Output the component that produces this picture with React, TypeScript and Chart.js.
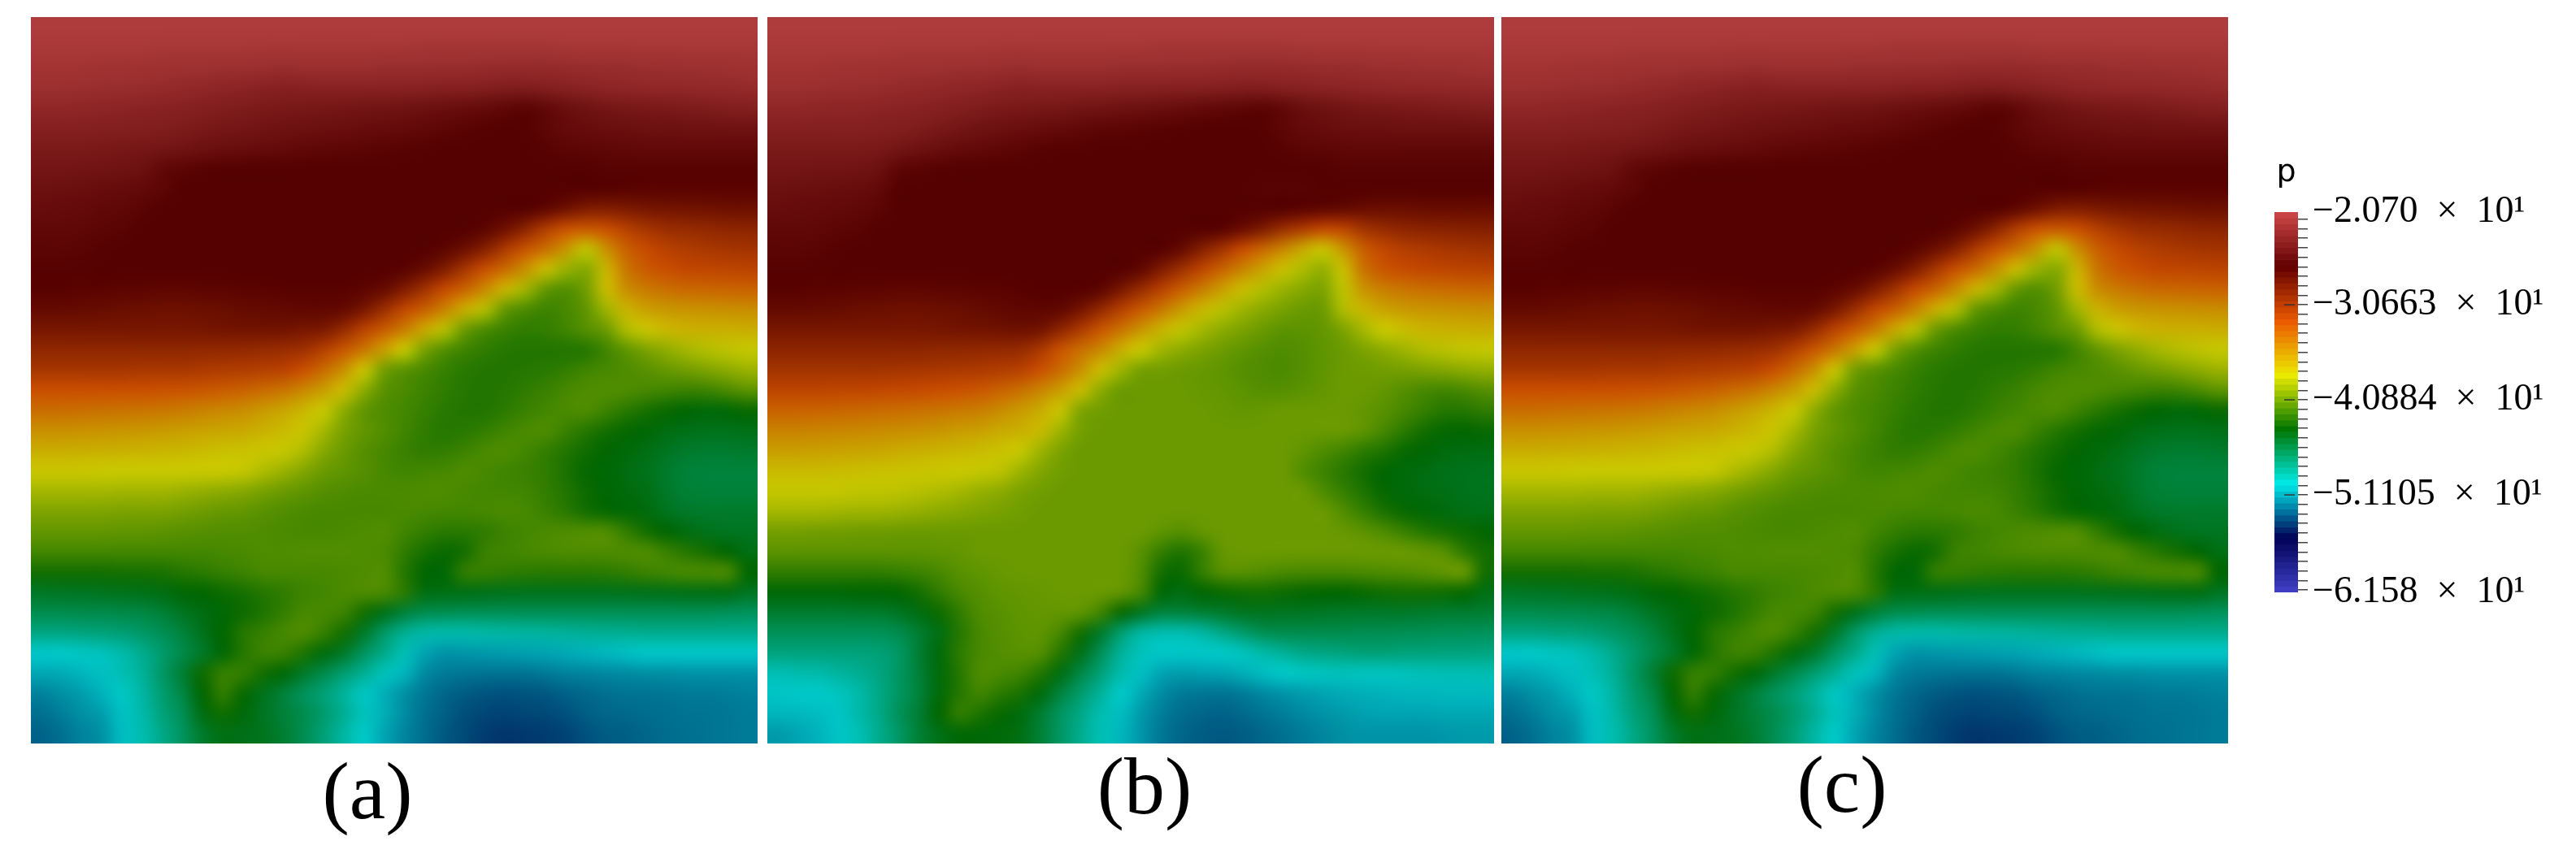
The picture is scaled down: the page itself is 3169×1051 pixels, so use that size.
import React, { useEffect, useRef } from "react";
import { Chart, registerables } from "chart.js";

Chart.register(...registerables);

const panelA: number[][] = [
[-20.8,-20.8,-20.8,-20.8,-20.8,-20.8,-20.8,-20.8,-20.8,-20.8,-20.8,-20.8,-20.8,-20.8,-20.8,-20.8,-20.8,-20.8,-20.8,-20.8,-20.8,-20.8,-20.8,-20.8,-20.8,-20.8,-20.8,-20.8,-20.8,-20.8,-20.8,-20.8,-20.8,-20.8,-20.8,-20.8],
[-21.2,-21.2,-21.2,-21.2,-21.2,-21.2,-21.3,-21.3,-21.3,-21.3,-21.3,-21.4,-21.4,-21.4,-21.4,-21.4,-21.4,-21.4,-21.4,-21.5,-21.5,-21.5,-21.5,-21.5,-21.5,-21.5,-21.4,-21.4,-21.4,-21.4,-21.3,-21.3,-21.3,-21.3,-21.3,-21.3],
[-21.6,-21.6,-21.6,-21.7,-21.7,-21.8,-21.8,-21.9,-21.9,-22,-22,-22.1,-22.2,-22.1,-22.1,-22.1,-22.1,-22.2,-22.2,-22.2,-22.3,-22.3,-22.4,-22.5,-22.5,-22.5,-22.4,-22.3,-22.3,-22.2,-22.1,-22.1,-22,-22,-21.9,-21.8],
[-22,-22,-22.1,-22.2,-22.2,-22.3,-22.5,-22.6,-22.8,-23,-23.1,-23.3,-23.5,-23.4,-23.3,-23.3,-23.3,-23.3,-23.3,-23.4,-23.5,-23.5,-23.6,-23.8,-23.8,-23.6,-23.4,-23.2,-23,-22.9,-22.8,-22.7,-22.7,-22.6,-22.6,-22.5],
[-22.8,-22.8,-22.9,-23,-23.1,-23.2,-23.3,-23.4,-23.6,-23.8,-23.9,-24.1,-24.2,-24.3,-24.4,-24.5,-24.6,-24.7,-24.8,-25,-25.2,-25.4,-25.6,-25.9,-26.2,-25.8,-25.2,-24.8,-24.5,-24.3,-24.2,-24.1,-24,-23.9,-23.7,-23.6],
[-23.5,-23.5,-23.5,-23.6,-23.6,-23.7,-23.8,-24,-24.2,-24.4,-24.5,-24.7,-24.9,-25,-25.1,-25.2,-25.4,-25.5,-25.6,-25.8,-26,-26.2,-26.4,-26.5,-26.4,-26,-25.6,-25.4,-25.2,-25.1,-25,-25,-24.9,-24.9,-24.8,-24.8],
[-24.1,-24.1,-24.1,-24.2,-24.3,-24.4,-24.5,-24.7,-25,-25.2,-25.3,-25.5,-25.6,-25.8,-25.9,-26,-26.1,-26.2,-26.3,-26.4,-26.5,-26.5,-26.5,-26.5,-26.5,-26.3,-26.1,-26,-25.9,-25.8,-25.7,-25.7,-25.7,-25.7,-25.7,-25.7],
[-24.5,-24.5,-24.6,-24.7,-24.8,-25,-25.8,-26.1,-26.3,-26.5,-26.5,-26.5,-26.5,-26.5,-26.5,-26.5,-26.5,-26.5,-26.5,-26.5,-26.5,-26.5,-26.5,-26.5,-26.5,-26.5,-26.5,-26.5,-26.3,-26.3,-26.3,-26.3,-26.3,-26.3,-26.3,-26.3],
[-25,-25.1,-25.2,-25.4,-25.5,-25.7,-26,-26.5,-26.5,-26.5,-26.5,-26.5,-26.5,-26.5,-26.5,-26.5,-26.5,-26.5,-26.5,-26.5,-26.5,-26.5,-26.5,-26.5,-26.5,-26.5,-26.5,-26.5,-26.6,-26.7,-26.8,-26.8,-26.8,-26.8,-26.8,-26.8],
[-25.4,-25.5,-25.6,-25.8,-25.9,-26.2,-26.5,-26.5,-26.5,-26.5,-26.5,-26.5,-26.5,-26.5,-26.5,-26.5,-26.5,-26.5,-26.5,-26.5,-26.5,-26.5,-26.5,-26.5,-26.6,-27,-27.8,-28.6,-28.8,-28.5,-28.2,-28.1,-28,-27.9,-27.8,-27.8],
[-25.8,-25.8,-25.9,-26.1,-26.2,-26.5,-26.5,-26.5,-26.5,-26.5,-26.5,-26.5,-26.5,-26.5,-26.5,-26.5,-26.5,-26.5,-26.5,-26.5,-26.5,-26.5,-26.9,-27.8,-29.3,-31.2,-32.6,-33,-32.5,-31.4,-30.6,-30,-29.8,-29.6,-29.4,-29.3],
[-26.1,-26.1,-26.2,-26.4,-26.5,-26.5,-26.5,-26.5,-26.5,-26.5,-26.5,-26.5,-26.5,-26.5,-26.5,-26.5,-26.5,-26.5,-26.5,-26.5,-26.9,-27.7,-29,-31,-32.7,-34,-35.8,-38.5,-35.5,-33.3,-32.2,-31.5,-31.1,-30.8,-30.6,-30.5],
[-26.4,-26.4,-26.4,-26.5,-26.5,-26.5,-26.5,-26.5,-26.5,-26.5,-26.5,-26.5,-26.5,-26.5,-26.5,-26.5,-26.5,-26.5,-26.8,-27.5,-28.8,-30.7,-32.5,-33.8,-35.6,-37.6,-39.6,-40.2,-37.3,-34.3,-33,-32.4,-32,-31.9,-31.8,-31.7],
[-26.7,-26.7,-26.8,-26.8,-26.9,-26.9,-27,-27,-26.9,-26.9,-26.8,-26.8,-26.7,-26.7,-26.7,-26.7,-26.9,-27.4,-28.7,-30.4,-32.2,-33.5,-35.3,-37.3,-39.4,-41.2,-41.7,-40.8,-37.6,-35.4,-34.5,-34,-33.7,-33.6,-33.5,-33.4],
[-27.3,-27.3,-27.4,-27.5,-27.6,-27.7,-27.8,-27.8,-27.7,-27.6,-27.4,-27.3,-27.2,-27.1,-27.1,-27.3,-28.3,-30.1,-32,-33.3,-35,-37,-38.9,-41.2,-41.9,-42.3,-42,-41.3,-39.5,-37.2,-36.3,-35.9,-35.7,-35.6,-35.5,-35.4],
[-28.3,-28.3,-28.3,-28.3,-28.3,-28.3,-28.3,-28.3,-28.2,-28.1,-28,-28,-28,-28.3,-28.5,-29.8,-31.7,-33.1,-34.7,-36.7,-38.8,-41,-41.9,-42.4,-42.7,-42.6,-42.2,-41.6,-41,-39,-38,-37.4,-37.1,-37,-37,-36.9],
[-29.5,-29.5,-29.5,-29.5,-29.5,-29.5,-29.5,-29.5,-29.6,-29.6,-29.7,-29.8,-30,-30.3,-31.4,-32.9,-34.4,-36.3,-38.4,-40.6,-41.7,-42.3,-42.7,-43,-43.1,-43.1,-43.1,-43,-42.2,-41.3,-40.5,-39.9,-39.3,-38.9,-38.6,-38.4],
[-30.7,-30.7,-30.7,-30.7,-30.7,-30.8,-30.8,-30.8,-31,-31.1,-31.2,-31.4,-31.6,-32.5,-33.8,-35.6,-38,-40.8,-41.5,-42,-42.5,-42.9,-43.1,-43.1,-43,-42.9,-42.6,-42.2,-42,-41.8,-41.5,-41.1,-40.8,-40.4,-40,-39.6],
[-32.5,-32.5,-32.5,-32.5,-32.5,-32.5,-32.6,-32.7,-32.9,-33.1,-33.4,-33.8,-34.3,-35.2,-36.2,-37.6,-40,-41.5,-41.9,-42.3,-42.7,-43,-43.1,-43,-42.7,-42.4,-42,-41.8,-41.7,-41.8,-42,-42.2,-42.4,-42.3,-41.9,-41.4],
[-33.9,-33.9,-34,-34.1,-34.2,-34.3,-34.4,-34.6,-34.9,-35.2,-35.4,-36,-36.6,-37.4,-38.3,-40,-41.3,-41.8,-42.1,-42.5,-42.9,-43.1,-43.1,-42.8,-42.4,-42.1,-41.9,-41.8,-42.3,-42.9,-43.4,-43.8,-44.1,-44.3,-44.2,-43.8],
[-35.5,-35.5,-35.6,-35.7,-35.8,-35.9,-36,-36.2,-36.4,-36.6,-36.7,-37.1,-37.5,-38,-39.3,-40.6,-41.2,-41.7,-42.2,-42.7,-43,-42.9,-42.6,-42.2,-41.9,-41.8,-42.4,-43,-43.5,-43.9,-44.2,-44.5,-44.7,-44.8,-44.8,-44.7],
[-36.9,-36.9,-37,-37,-37.1,-37.2,-37.3,-37.4,-37.6,-37.8,-37.9,-38.1,-38.4,-39,-40.2,-41,-41.6,-42,-42.4,-42.7,-42.6,-42.3,-41.9,-41.8,-42.1,-42.6,-43.1,-43.6,-44,-44.3,-44.6,-45,-45.3,-45.4,-45.4,-45.3],
[-38.1,-38.1,-38.1,-38.2,-38.2,-38.2,-38.2,-38.2,-38.2,-38.2,-38.4,-39,-39.6,-40.3,-41,-41.3,-41.6,-42,-42.2,-42.1,-42,-41.8,-42,-42.2,-42.4,-42.7,-43.3,-43.9,-44.2,-44.5,-44.8,-45.3,-45.7,-45.8,-45.8,-45.8],
[-39.3,-39.3,-39.3,-39.3,-39.4,-39.4,-39.4,-39.6,-39.8,-40,-40.2,-40.6,-41,-41.3,-41.6,-41.8,-41.9,-41.9,-41.9,-41.8,-41.8,-42,-42.1,-42.1,-42.2,-42.6,-43.1,-43.7,-44.1,-44.4,-44.6,-45.2,-45.6,-45.7,-45.7,-45.7],
[-40.4,-40.4,-40.4,-40.4,-40.5,-40.5,-40.5,-40.7,-40.9,-41.1,-41.2,-41.5,-41.7,-41.9,-42,-42,-42,-42,-41.9,-42,-42.1,-42.1,-42,-41.9,-42,-42.4,-42.9,-43.5,-43.9,-44.2,-44.4,-44.9,-45.2,-45.3,-45.3,-45.3],
[-41.2,-41.2,-41.2,-41.2,-41.3,-41.3,-41.4,-41.5,-41.6,-41.7,-41.7,-41.8,-41.9,-42,-42,-41.9,-41.8,-41.7,-42.2,-42.6,-42.9,-42.9,-42.7,-42.3,-42.1,-41.9,-41.8,-41.7,-41.7,-42.6,-43.5,-44.1,-44.5,-44.8,-45,-45],
[-42.1,-42.1,-42.1,-42.1,-42.1,-42.1,-42.1,-42.1,-42.1,-42,-41.9,-41.8,-41.8,-41.7,-41.7,-41.7,-41.8,-41.9,-42.7,-43.4,-43.8,-43.5,-42.4,-42.2,-42,-41.9,-41.8,-41.8,-41.8,-41.8,-41.8,-42.4,-43,-43.5,-44.1,-44.6],
[-43.5,-43.5,-43.5,-43.5,-43.4,-43.4,-43.3,-43,-42.8,-42.5,-42.3,-42,-42,-42,-42,-41.9,-41.8,-41.7,-43,-44,-44.2,-42.6,-42.5,-42.7,-42.8,-42.9,-42.9,-42.9,-42.8,-42.6,-42.3,-42.1,-41.9,-41.9,-41.9,-44],
[-45.1,-45,-45,-44.9,-44.8,-44.7,-44.5,-44.2,-44,-43.7,-43.4,-43,-42.7,-42.3,-42.1,-41.9,-41.8,-41.9,-42.8,-44.5,-44.6,-44.6,-44.7,-44.8,-44.8,-44.8,-44.8,-44.8,-44.8,-44.8,-44.7,-44.7,-44.6,-44.6,-44.5,-45],
[-46.3,-46.3,-46.2,-46.2,-46.1,-46,-45.6,-45,-44.5,-44.2,-43.7,-43.2,-42.6,-42,-42,-42.3,-43.5,-44.7,-45.7,-46.3,-46.4,-46.5,-46.5,-46.5,-46.5,-46.5,-46.5,-46.5,-46.5,-46.5,-46.5,-46.5,-46.5,-46.5,-46.6,-46.7],
[-47.8,-47.8,-47.7,-47.6,-47.4,-47,-46.5,-45.8,-44.8,-44,-43,-42.5,-42,-41.8,-42.5,-43.5,-45.2,-47,-48.3,-48.9,-49,-49,-48.9,-48.8,-48.7,-48.6,-48.5,-48.4,-48.3,-48.3,-48.2,-48.2,-48.2,-48.2,-48.2,-48.2],
[-50,-49.9,-49.7,-49.5,-49,-48.2,-47.2,-46.2,-45.2,-44.2,-43,-42.3,-42.4,-43.2,-44.4,-45.2,-46.8,-48,-49.3,-51,-51.5,-51.4,-51.3,-51.2,-51.1,-51,-50.8,-50.6,-50.4,-50.2,-50,-50,-50,-50,-50,-50],
[-50.9,-50.8,-50.5,-50.2,-49.3,-48.5,-47,-45.5,-43.7,-42.5,-42.6,-43.5,-44.2,-45.2,-46.2,-47.3,-48.3,-49.5,-50.5,-51.8,-52.2,-52.3,-52.4,-52.4,-52.4,-52.2,-52,-51.9,-51.8,-51.7,-51.6,-51.6,-51.5,-51.5,-51.5,-51.5],
[-52,-51.6,-51.2,-50.6,-49.8,-48.8,-47.3,-46,-44,-42.6,-43.8,-44.8,-45.7,-46.7,-47.5,-48.6,-49.7,-50.7,-51.6,-52.3,-52.8,-53.1,-53.3,-53.4,-53.3,-53.2,-52.9,-52.7,-52.5,-52.4,-52.4,-52.3,-52.2,-52.2,-52.1,-52],
[-52.5,-52.1,-51.6,-51.2,-50.2,-49,-47.6,-46.5,-44.5,-43.6,-44.3,-45,-45.7,-46.3,-47.2,-48.3,-49.5,-50.7,-51.7,-52.5,-53,-53.5,-53.7,-53.8,-53.7,-53.6,-53.4,-53,-52.8,-52.7,-52.6,-52.5,-52.4,-52.4,-52.3,-52.2],
[-52.9,-52.5,-52,-51.6,-50.3,-49.2,-48,-46.8,-45.3,-44.6,-44.7,-44.9,-45.5,-46.4,-47.5,-48.8,-49.9,-51,-51.9,-52.6,-53.2,-53.6,-54,-54.2,-54.1,-54,-53.8,-53.4,-53.1,-53,-52.8,-52.6,-52.5,-52.4,-52.3,-52.2],
];

const panelB: number[][] = [
[-20.8,-20.8,-20.8,-20.8,-20.8,-20.8,-20.8,-20.8,-20.8,-20.8,-20.8,-20.8,-20.8,-20.8,-20.8,-20.8,-20.8,-20.8,-20.8,-20.8,-20.8,-20.8,-20.8,-20.8,-20.8,-20.8,-20.8,-20.8,-20.8,-20.8,-20.8,-20.8,-20.8,-20.8,-20.8,-20.8],
[-21.2,-21.2,-21.2,-21.2,-21.2,-21.2,-21.3,-21.3,-21.3,-21.3,-21.3,-21.4,-21.4,-21.4,-21.4,-21.4,-21.4,-21.4,-21.4,-21.5,-21.5,-21.5,-21.5,-21.5,-21.5,-21.5,-21.4,-21.4,-21.4,-21.4,-21.3,-21.3,-21.3,-21.3,-21.3,-21.3],
[-21.6,-21.6,-21.6,-21.7,-21.7,-21.8,-21.8,-21.9,-21.9,-22,-22,-22.1,-22.2,-22.1,-22.1,-22.1,-22.1,-22.2,-22.2,-22.2,-22.3,-22.3,-22.4,-22.5,-22.5,-22.5,-22.4,-22.3,-22.3,-22.2,-22.1,-22.1,-22,-22,-21.9,-21.8],
[-22,-22,-22.1,-22.2,-22.2,-22.3,-22.5,-22.6,-22.7,-22.9,-23,-23.2,-23.4,-23.3,-23.3,-23.3,-23.3,-23.4,-23.4,-23.5,-23.5,-23.5,-23.6,-23.7,-23.7,-23.5,-23.4,-23.2,-23.1,-23,-22.9,-22.8,-22.8,-22.7,-22.7,-22.6],
[-22.8,-22.8,-22.9,-23,-23,-23.1,-23.2,-23.3,-23.5,-23.7,-23.9,-24.1,-24.2,-24.3,-24.4,-24.6,-24.7,-24.9,-25,-25.2,-25.4,-25.6,-25.8,-26,-26.2,-25.8,-25.2,-24.9,-24.6,-24.4,-24.3,-24.2,-24.1,-24,-23.9,-23.8],
[-23.5,-23.5,-23.5,-23.5,-23.5,-23.6,-23.7,-23.9,-24.2,-24.5,-24.8,-25,-25.2,-25.4,-25.6,-25.8,-26,-26.1,-26.2,-26.3,-26.4,-26.5,-26.5,-26.5,-26.4,-26,-25.6,-25.4,-25.2,-25.1,-25.1,-25,-25,-25,-25,-24.9],
[-24.1,-24.1,-24.1,-24.1,-24.1,-24.2,-24.5,-24.9,-25.2,-25.5,-25.7,-25.9,-26.1,-26.3,-26.4,-26.4,-26.5,-26.5,-26.5,-26.5,-26.5,-26.5,-26.5,-26.5,-26.5,-26.3,-26.1,-26,-25.9,-25.8,-25.8,-25.8,-25.8,-25.8,-25.8,-25.8],
[-24.5,-24.5,-24.6,-24.6,-24.7,-25,-26,-26.2,-26.4,-26.5,-26.5,-26.5,-26.5,-26.5,-26.5,-26.5,-26.5,-26.5,-26.5,-26.5,-26.5,-26.5,-26.5,-26.5,-26.5,-26.5,-26.5,-26.5,-26.3,-26.3,-26.3,-26.3,-26.3,-26.3,-26.3,-26.3],
[-25,-25.1,-25.2,-25.3,-25.4,-25.7,-26.5,-26.5,-26.5,-26.5,-26.5,-26.5,-26.5,-26.5,-26.5,-26.5,-26.5,-26.5,-26.5,-26.5,-26.5,-26.5,-26.5,-26.5,-26.3,-26.3,-26.3,-26.5,-26.5,-26.5,-26.5,-26.5,-26.5,-26.5,-26.5,-26.5],
[-25.4,-25.5,-25.6,-25.7,-25.8,-26.1,-26.5,-26.5,-26.5,-26.5,-26.5,-26.5,-26.5,-26.5,-26.5,-26.5,-26.5,-26.5,-26.5,-26.5,-26.5,-26.5,-26.5,-26.5,-26.5,-26.5,-26.8,-27,-27.2,-27.5,-27.6,-27.6,-27.5,-27.5,-27.5,-27.5],
[-25.8,-25.8,-25.9,-26.1,-26.2,-26.5,-26.5,-26.5,-26.5,-26.5,-26.5,-26.5,-26.5,-26.5,-26.5,-26.5,-26.5,-26.5,-26.5,-26.5,-26.5,-26.5,-26.7,-27.5,-28.5,-30,-31,-32,-31.8,-30.5,-29.8,-29.4,-29.2,-29.1,-29,-28.9],
[-26.1,-26.1,-26.2,-26.4,-26.5,-26.5,-26.5,-26.5,-26.5,-26.5,-26.5,-26.5,-26.5,-26.5,-26.5,-26.5,-26.5,-26.5,-26.5,-26.5,-27.3,-28.9,-30.4,-32.2,-33.6,-35,-36.7,-38,-35.8,-33.2,-32,-31.3,-31,-30.7,-30.5,-30.3],
[-26.4,-26.4,-26.4,-26.5,-26.5,-26.5,-26.5,-26.5,-26.5,-26.5,-26.5,-26.5,-26.5,-26.5,-26.5,-26.5,-26.5,-26.5,-27.1,-28.6,-30.2,-31.8,-33.4,-34.9,-36.4,-37.8,-39,-39.8,-37.8,-34.2,-32.8,-32.3,-32,-31.8,-31.7,-31.6],
[-26.7,-26.7,-26.8,-26.8,-26.9,-26.9,-27,-27,-26.9,-26.9,-26.8,-26.8,-26.7,-26.6,-26.6,-26.6,-26.9,-28.3,-29.9,-31.5,-33.2,-34.6,-36.2,-37.6,-38.9,-39.6,-40.2,-40.5,-38.6,-35.8,-34.7,-34.3,-34,-33.8,-33.7,-33.6],
[-27.3,-27.3,-27.4,-27.5,-27.6,-27.7,-27.8,-27.8,-27.7,-27.6,-27.4,-27.2,-27,-27,-27.1,-28.1,-29.7,-31.4,-33,-34.4,-36,-37.4,-38.7,-39.5,-40.1,-40.6,-41,-41,-39,-37.3,-36.5,-36,-35.8,-35.7,-35.6,-35.5],
[-28.3,-28.3,-28.3,-28.3,-28.3,-28.3,-28.3,-28.3,-28.2,-28.1,-28,-27.9,-27.8,-28,-29.4,-31,-32.8,-34.2,-35.8,-37.2,-38.5,-39.3,-40,-40.5,-41,-41.4,-41.4,-41.2,-40.5,-39.3,-38.2,-37.7,-37.3,-37.1,-37,-36.9],
[-29.4,-29.4,-29.4,-29.4,-29.4,-29.4,-29.4,-29.4,-29.5,-29.5,-29.6,-29.7,-29.8,-30.8,-32.7,-34,-35.2,-37,-38.3,-39.4,-40,-40.5,-40.9,-41.3,-41.6,-41.8,-41.6,-41.3,-41,-40.5,-40,-39.5,-39,-38.7,-38.5,-38.4],
[-30.5,-30.5,-30.5,-30.5,-30.5,-30.5,-30.6,-30.7,-30.8,-30.9,-31,-31.2,-31.5,-32.5,-33.8,-35.5,-37.7,-39.5,-40.7,-40.8,-41,-41.1,-41.3,-41.6,-41.8,-41.9,-41.6,-41.3,-41,-40.9,-40.8,-40.7,-40.5,-40.3,-40,-39.8],
[-31.8,-31.8,-31.8,-31.9,-31.9,-32,-32.1,-32.2,-32.4,-32.6,-32.9,-33.4,-34,-35,-36.2,-37.6,-40,-41,-41,-41,-41,-41.1,-41.2,-41.4,-41.6,-41.6,-41.4,-41.2,-41,-41,-41.2,-41.6,-42,-42.2,-42,-41.6],
[-33.4,-33.4,-33.5,-33.6,-33.7,-33.8,-33.9,-34.1,-34.3,-34.5,-34.7,-35.3,-36,-36.8,-38,-40.4,-40.8,-41,-41,-41,-41,-41,-41.1,-41.2,-41.1,-41,-41,-41,-41,-41.2,-41.5,-42,-42.5,-43,-43,-42.7],
[-34.9,-34.9,-35,-35.1,-35.2,-35.3,-35.4,-35.6,-35.8,-36.1,-36.3,-36.7,-37,-37.5,-39.5,-40.7,-41,-41,-41,-41,-41,-41,-41,-41,-41,-41,-41,-41,-41,-41.3,-42,-42.8,-43.5,-43.9,-44,-43.8],
[-36.2,-36.2,-36.3,-36.4,-36.5,-36.6,-36.8,-37,-37.2,-37.4,-37.6,-37.9,-38.3,-39.5,-40.5,-41,-41,-41,-41,-41,-41,-41,-41,-41,-41,-41,-41.3,-41.8,-42.2,-42.8,-43.2,-43.8,-44.1,-44.4,-44.5,-44.5],
[-37.5,-37.5,-37.5,-37.6,-37.7,-37.8,-37.9,-38,-38.1,-38.2,-38.4,-38.6,-39.5,-40.3,-40.8,-41,-41,-41,-41,-41,-41,-41,-41,-41,-41,-41,-41.7,-42.3,-42.9,-43.5,-44,-44.3,-44.5,-44.7,-44.8,-44.9],
[-38.4,-38.4,-38.4,-38.4,-38.5,-38.5,-38.6,-38.8,-39,-39.3,-39.7,-40,-40.5,-40.8,-41,-41,-41,-41,-41,-41,-41,-41,-41,-41,-41,-41,-41,-41.8,-42.5,-43.2,-43.9,-44.3,-44.5,-44.6,-44.8,-44.9],
[-39.3,-39.3,-39.3,-39.4,-39.5,-39.5,-39.6,-39.8,-40,-40.2,-40.4,-40.6,-40.8,-41,-41,-41,-41,-41,-41,-41,-41,-41,-41,-41,-41,-41,-41,-41,-41.7,-42.5,-43.3,-43.8,-44.2,-44.4,-44.6,-44.7],
[-40.7,-40.7,-40.8,-40.8,-40.9,-40.9,-41,-41,-41,-41,-41,-41,-41,-41,-41,-41,-41,-41,-41,-41.3,-41.6,-41.2,-41,-41,-41,-41,-41,-41,-41.1,-41.4,-41.8,-42.4,-43,-43.4,-43.7,-44],
[-41.4,-41.4,-41.4,-41.4,-41.4,-41.4,-41.4,-41.4,-41.3,-41.2,-41,-41,-41,-41,-41,-41,-41,-41,-41.5,-42.6,-43.2,-42.5,-41.2,-41,-41,-41,-41,-41,-41,-41,-41,-41,-41.2,-41.5,-42.8,-43.5],
[-42.7,-42.7,-42.7,-42.7,-42.7,-42.7,-42.5,-42.3,-42,-41.5,-41.3,-41.1,-41,-41,-41,-41,-41,-41,-41.7,-43.5,-43.8,-42.6,-41.6,-41.5,-41.7,-41.9,-42,-42,-42,-41.9,-41.8,-41.7,-41.5,-41.2,-41,-43.5],
[-44.2,-44.2,-44.2,-44.2,-44.1,-44.1,-44,-43.5,-42.7,-42,-41.6,-41.3,-41.2,-41.1,-41,-41,-41,-41.2,-42,-44.2,-44.5,-44.1,-43.8,-43.6,-43.5,-43.7,-43.9,-44,-44,-43.8,-43.6,-43.5,-43.5,-43.6,-43.9,-44.6],
[-45.4,-45.4,-45.4,-45.4,-45.3,-45.3,-45,-44.5,-43.7,-42.7,-41.8,-41.5,-41.3,-41.2,-41.2,-41.3,-42.2,-43.8,-45,-45.8,-45.8,-45.6,-45.3,-45,-44.9,-45,-45,-45.1,-45.2,-45.2,-45.2,-45.2,-45.3,-45.4,-45.4,-45.5],
[-46.6,-46.6,-46.6,-46.6,-46.6,-46.6,-46.3,-45.5,-44.6,-43,-42,-41.6,-41.4,-41.3,-42,-43.5,-45.2,-47.3,-48.8,-49.2,-49.2,-48.8,-48,-47.2,-46.5,-46.3,-46.3,-46.3,-46.3,-46.4,-46.4,-46.5,-46.5,-46.6,-46.6,-46.7],
[-47.7,-47.7,-47.7,-47.6,-47.6,-47.5,-47,-45.5,-44.3,-42.8,-42,-41.7,-41.5,-41.6,-43,-44.7,-46.5,-48.5,-49.5,-50,-50,-50,-49.9,-49.6,-49,-48.5,-48,-47.8,-47.7,-47.5,-47.5,-47.6,-47.6,-47.7,-47.7,-47.8],
[-49.3,-49.1,-49,-48.7,-48.3,-47.8,-46.9,-45.7,-44.3,-43,-41.8,-41.9,-42.2,-43,-44.5,-46,-47.5,-49,-50.2,-51,-51.2,-51.1,-51,-50.7,-50.3,-49.9,-49.7,-49.6,-49.5,-49.6,-49.6,-49.5,-49.4,-49.3,-49.3,-49.2],
[-50.1,-50,-49.9,-49.6,-49,-48,-46.9,-45.8,-44.3,-43,-42.2,-42.8,-43.3,-44.3,-45.8,-47.2,-48.5,-49.9,-50.8,-51.7,-52.2,-52.3,-52.4,-52.2,-51.8,-51.5,-51.2,-51,-50.8,-50.7,-50.6,-50.5,-50.5,-50.4,-50.4,-50.4],
[-50.5,-50.4,-50.3,-50.1,-49,-48,-46.7,-45.5,-44,-42.6,-43.2,-43.8,-44.4,-45.4,-46.8,-47.9,-49.2,-50.3,-51.3,-52.1,-52.6,-52.8,-52.9,-52.7,-52.4,-52.1,-51.8,-51.5,-51.3,-51.1,-51,-51,-51,-50.9,-50.9,-50.9],
[-51.3,-51,-50.6,-50.1,-49.4,-48.2,-47,-45.6,-44.7,-44.2,-44.2,-44.3,-44.6,-45.6,-46.9,-48.2,-49.3,-50.5,-51.4,-52.3,-52.8,-53.1,-53.2,-53.1,-52.8,-52.5,-52.2,-51.9,-51.6,-51.5,-51.5,-51.5,-51.5,-51.4,-51.3,-51.3],
];

const panelC: number[][] = panelA;
const panelCaptions = ["(a)", "(b)", "(c)"];

const colorBarTitle = "p";
const colorBarMajorTicks = [-30.663, -40.884, -51.105];
const colorBarLabelled = [-20.7, -30.663, -40.884, -51.105, -61.58];
const colorBarLabels = ["\u22122.070\u2002\u00d7\u200210\u00b9", "\u22123.0663\u2002\u00d7\u200210\u00b9", "\u22124.0884\u2002\u00d7\u200210\u00b9", "\u22125.1105\u2002\u00d7\u200210\u00b9", "\u22126.158\u2002\u00d7\u200210\u00b9"];
const colorBarMinorTicks = [-21.464,-22.486,-23.508,-24.53,-25.552,-26.575,-27.597,-28.619,-29.641,-31.685,-32.707,-33.729,-34.751,-35.774,-36.796,-37.818,-38.84,-39.862,-41.906,-42.928,-43.95,-44.972,-45.995,-47.017,-48.039,-49.061,-50.083,-52.127,-53.149,-54.171,-55.193,-56.216,-57.238,-58.26,-59.282,-60.304,-61.326];
const colorBarEdges = [-61.58,-60.94,-60.3,-59.66,-59.03,-58.39,-57.75,-57.11,-56.47,-55.83,-55.19,-54.55,-53.92,-53.28,-52.64,-52,-51.36,-50.72,-50.08,-49.44,-48.8,-48.17,-47.53,-46.89,-46.25,-45.61,-44.97,-44.33,-43.69,-43.06,-42.42,-41.78,-41.14,-40.5,-39.86,-39.22,-38.58,-37.95,-37.31,-36.67,-36.03,-35.39,-34.75,-34.11,-33.47,-32.83,-32.2,-31.56,-30.92,-30.28,-29.64,-29,-28.36,-27.72,-27.09,-26.45,-25.81,-25.17,-24.53,-23.89,-23.25,-22.61,-21.98,-21.34,-20.7];

const colorStopValues = [-61.58, -55.74, -49.93, -44.04, -38.24, -32.4, -26.55, -20.7];
const colorStopRgb = [[71,71,219],[0,0,92],[0,255,255],[0,128,0],[255,255,0],[255,97,0],[107,0,0],[224,77,77]];
const SURFACE_SHADE = 0.79;

function colormap(v: number, shade: number): string {
  const s = colorStopValues;
  let i = 0;
  while (i < s.length - 2 && v > s[i + 1]) i++;
  const t = Math.min(1, Math.max(0, (v - s[i]) / (s[i + 1] - s[i])));
  const c = colorStopRgb[i].map((a, k) => Math.round((a + (colorStopRgb[i + 1][k] - a) * t) * shade));
  return `rgb(${c[0]},${c[1]},${c[2]})`;
}

const PANEL = 894;
const CAPTION_SPACE = 136;

// Softens the library-drawn cells: reads them back one sample per cell and repaints them smoothly.
const smoothCells = {
  id: "smoothCells",
  afterDatasetsDraw(chart: any) {
    const { left, top, width, height } = chart.chartArea;
    const n = (chart.options.plugins as any).smoothCells.cells;
    const low = document.createElement("canvas");
    low.width = n;
    low.height = n;
    const l = low.getContext("2d")!;
    l.imageSmoothingEnabled = false;
    l.drawImage(chart.canvas, left, top, width, height, 0, 0, n, n);
    const ctx = chart.ctx;
    ctx.save();
    ctx.imageSmoothingEnabled = true;
    ctx.imageSmoothingQuality = "high";
    ctx.drawImage(low, left, top, width, height);
    ctx.restore();
  },
};

const caption = {
  id: "caption",
  afterDraw(chart: any) {
    const o = (chart.options.plugins as any).caption;
    const ctx = chart.ctx;
    ctx.save();
    ctx.font = o.font;
    ctx.fillStyle = "#000";
    ctx.textAlign = "center";
    ctx.textBaseline = "alphabetic";
    ctx.fillText(o.text, chart.chartArea.left + o.dx, chart.chartArea.bottom + o.dy);
    ctx.restore();
  },
};

function PanelChart({ grid, text, left, dx, dy }: { grid: number[][]; text: string; left: number; dx: number; dy: number }) {
  const ref = useRef<HTMLCanvasElement>(null);
  useEffect(() => {
    const points: any[] = [];
    grid.forEach((row, j) => row.forEach((v, i) => points.push({ x: i + 0.5, y: j + 0.5, v })));
    const n = grid.length;
    const chart = new Chart(ref.current!, {
      type: "scatter",
      data: {
        datasets: [{
          data: points,
          pointStyle: "rect",
          pointRadius: 19,
          pointBorderWidth: 0,
          pointBackgroundColor: (c: any) => colormap(c.raw ? c.raw.v : -40, SURFACE_SHADE),
          clip: 0,
        } as any],
      },
      options: {
        responsive: false,
        animation: false,
        events: [],
        layout: { autoPadding: false, padding: { left: 0, right: 0, top: 0, bottom: CAPTION_SPACE } },
        scales: {
          x: { type: "linear", min: 0, max: n, display: false },
          y: { type: "linear", min: 0, max: n, reverse: true, display: false },
        },
        plugins: {
          legend: { display: false },
          tooltip: { enabled: false },
          smoothCells: { cells: n },
          caption: { text, dx, dy, font: "100px 'Liberation Serif'" },
        } as any,
      },
      plugins: [smoothCells, caption],
    });
    return () => chart.destroy();
  }, []);
  return (
    <canvas
      ref={ref}
      width={PANEL}
      height={PANEL + CAPTION_SPACE}
      style={{ position: "absolute", left, top: 21, width: PANEL, height: PANEL + CAPTION_SPACE, display: "block" }}
    />
  );
}

function ColorBar() {
  const ref = useRef<HTMLCanvasElement>(null);
  useEffect(() => {
    const bands: any[] = [];
    for (let i = 0; i < colorBarEdges.length - 1; i++) bands.push({ x: colorBarTitle, y: [colorBarEdges[i], colorBarEdges[i + 1]] });
    const allTicks = [...colorBarLabelled, ...colorBarMinorTicks];
    const chart = new Chart(ref.current!, {
      type: "bar",
      data: {
        labels: [colorBarTitle],
        datasets: [
          {
            type: "scatter",
            data: colorBarMajorTicks.map((y) => ({ x: 0.78, y })),
            xAxisID: "x2",
            pointStyle: "line",
            pointRadius: 6.5,
            pointBorderWidth: 1.5,
            pointBorderColor: "#333",
            order: 0,
          } as any,
          {
            data: bands,
            grouped: false,
            barPercentage: 1,
            categoryPercentage: 1,
            borderWidth: 0,
            backgroundColor: (c: any) => {
              const r = c.raw;
              return colormap(r ? (r.y[0] + r.y[1]) / 2 : -40, 0.92);
            },
            order: 1,
          } as any,
        ],
      },
      options: {
        responsive: false,
        animation: false,
        events: [],
        layout: { autoPadding: false, padding: { left: 18, right: 0, top: 81, bottom: 51 } },
        scales: {
          x: { type: "category", display: false, offset: true },
          x2: { type: "linear", display: false, min: 0, max: 1 },
          y: {
            type: "linear",
            position: "right",
            min: -61.58,
            max: -20.7,
            afterFit: (s: any) => { s.width = 342; },
            afterBuildTicks: (s: any) => { s.ticks = allTicks.map((value) => ({ value })); },
            border: { display: false },
            grid: {
              drawOnChartArea: false,
              drawTicks: true,
              tickLength: 12,
              lineWidth: 1.5,
              tickColor: (c: any) => (c.tick && (c.tick.value === -20.7 || c.tick.value === -61.58) ? "rgba(0,0,0,0)" : "#444"),
            },
            ticks: {
              autoSkip: false,
              padding: 6,
              color: "#000",
              font: { family: "'Liberation Serif'", size: 46 },
              callback: (v: any) => {
                const k = colorBarLabelled.indexOf(v);
                return k >= 0 ? colorBarLabels[k] : "";
              },
            },
          },
        },
        plugins: {
          legend: { display: false },
          tooltip: { enabled: false },
          caption: { text: colorBarTitle, dx: 14.5, dy: -506.5, font: "38px 'DejaVu Sans'" },
        } as any,
      },
      plugins: [caption],
    });
    return () => chart.destroy();
  }, []);
  return (
    <canvas
      ref={ref}
      width={389}
      height={600}
      style={{ position: "absolute", left: 2780, top: 180, width: 389, height: 600, display: "block" }}
    />
  );
}

export default function App() {
  return (
    <div style={{ position: "absolute", left: 0, top: 0, width: 3169, height: 1051, background: "#fff", overflow: "hidden" }}>
      <PanelChart grid={panelA} text={panelCaptions[0]} left={38} dx={414} dy={92} />
      <PanelChart grid={panelB} text={panelCaptions[1]} left={944} dx={464} dy={86} />
      <PanelChart grid={panelC} text={panelCaptions[2]} left={1847} dx={419} dy={84} />
      <ColorBar />
    </div>
  );
}
